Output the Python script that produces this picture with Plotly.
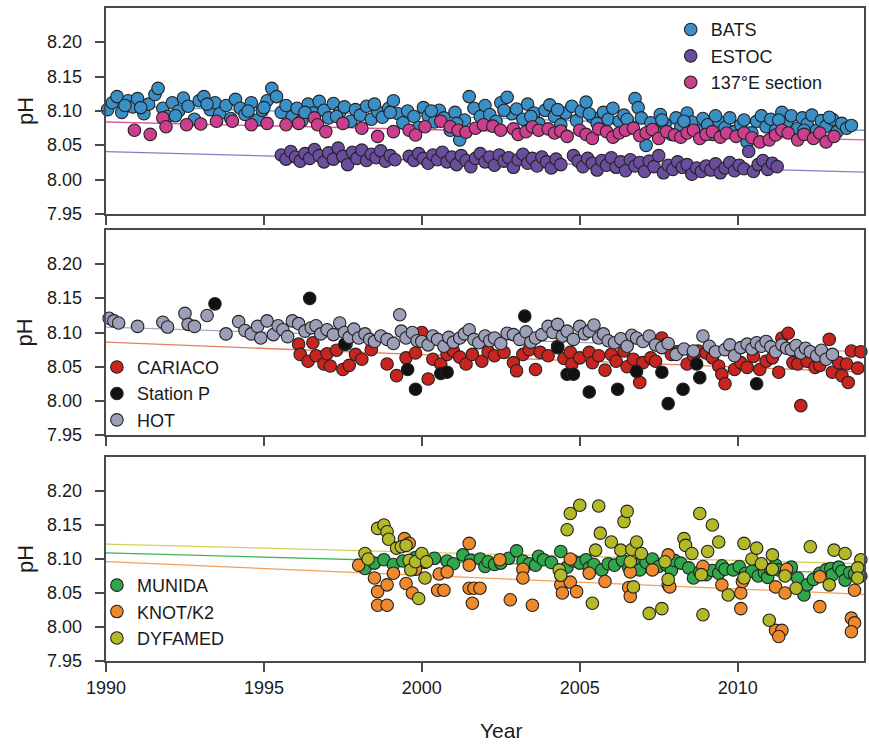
import plotly.graph_objects as go

# ---------------- data ----------------
x_range = [1990, 2014]
ph_ticks = [7.95, 8.00, 8.05, 8.10, 8.15, 8.20]
ph_tick_labels = ["7.95", "8.00", "8.05", "8.10", "8.15", "8.20"]
year_ticks = [1990, 1995, 2000, 2005, 2010]

# Panel 1
bats_year = [1990.05, 1990.2, 1990.35, 1990.5, 1990.7, 1990.85, 1991.0, 1991.2, 1991.35, 1991.55,
             1991.65, 1991.8, 1991.95, 1992.1, 1992.3, 1992.45, 1992.6, 1992.8, 1992.95, 1993.1,
             1993.3, 1993.45, 1993.6, 1993.8, 1993.95, 1994.1, 1994.25, 1994.4, 1994.6, 1994.8,
             1994.95, 1995.1, 1995.25, 1995.4, 1995.55, 1995.7, 1995.9, 1996.05, 1996.2, 1996.4,
             1996.55, 1996.75, 1996.9, 1997.05, 1997.2, 1997.4, 1997.55, 1997.75, 1997.9, 1998.05,
             1998.25, 1998.4, 1998.6, 1998.75, 1998.95, 1999.1, 1999.25, 1999.4, 1999.55, 1999.75,
             1999.9, 2000.05, 2000.2, 2000.4, 2000.55, 2000.7, 2000.9, 2001.05, 2001.2, 2001.35,
             2001.5, 2001.65, 2001.85, 2002.0, 2002.15, 2002.35, 2002.5, 2002.7, 2002.85, 2003.0,
             2003.2, 2003.35, 2003.55, 2003.7, 2003.9, 2004.05, 2004.2, 2004.4, 2004.55, 2004.75,
             2004.9, 2005.05, 2005.2, 2005.4, 2005.55, 2005.75, 2005.9, 2006.05, 2006.25, 2006.4,
             2006.6, 2006.75, 2006.85, 2006.95, 2007.1, 2007.25, 2007.4, 2007.55, 2007.7, 2007.9,
             2008.05, 2008.2, 2008.4, 2008.55, 2008.75, 2008.9, 2009.05, 2009.2, 2009.4, 2009.6,
             2009.75, 2009.9, 2010.1, 2010.3, 2010.45, 2010.6, 2010.75, 2010.9, 2011.05, 2011.2,
             2011.4, 2011.55, 2011.7, 2011.9, 2012.05, 2012.2, 2012.35, 2012.5, 2012.65, 2012.8,
             2013.0, 2013.15, 2013.3, 2013.45, 2013.6,
             1990.6, 1991.1, 1992.2, 1993.2, 1994.5, 1995.0, 1996.3, 1997.3, 1998.5, 1999.0,
             2000.3, 2001.1, 2002.6, 2003.45, 2004.3, 2005.3, 2006.5, 2007.6, 2008.3, 2009.3,
             2010.2, 2011.3, 2012.1, 2012.9]
bats_ph = [8.102, 8.112, 8.121, 8.098, 8.115, 8.106, 8.118, 8.096, 8.110, 8.124,
           8.133, 8.104, 8.092, 8.112, 8.100, 8.119, 8.107, 8.088, 8.115, 8.121,
           8.102, 8.112, 8.096, 8.108, 8.089, 8.117, 8.104, 8.095, 8.112, 8.087,
           8.101, 8.115, 8.133, 8.121, 8.098, 8.108, 8.092, 8.104, 8.086, 8.110,
           8.097, 8.114, 8.101, 8.090, 8.111, 8.098, 8.106, 8.085, 8.102, 8.094,
           8.107, 8.088, 8.099, 8.091, 8.104, 8.115, 8.096, 8.083, 8.100, 8.092,
           8.076, 8.105, 8.093, 8.084, 8.101, 8.090, 8.072, 8.098, 8.058, 8.087,
           8.121, 8.104, 8.092, 8.108, 8.095, 8.085, 8.112, 8.120, 8.096, 8.103,
           8.088, 8.110, 8.097, 8.082, 8.101, 8.109, 8.092, 8.080, 8.097, 8.107,
           8.086, 8.100, 8.113, 8.091, 8.082, 8.098, 8.088, 8.104, 8.085, 8.094,
           8.078, 8.118, 8.105, 8.090, 8.050, 8.083, 8.072, 8.095, 8.081, 8.066,
           8.090, 8.077, 8.097, 8.084, 8.071, 8.089, 8.080, 8.066, 8.085, 8.076,
           8.090, 8.070, 8.080, 8.055, 8.068, 8.085, 8.093, 8.077, 8.088, 8.072,
           8.098, 8.084, 8.093, 8.075, 8.090, 8.081, 8.094, 8.072, 8.086, 8.078,
           8.088, 8.070, 8.082, 8.075, 8.079,
           8.108, 8.105, 8.093, 8.110, 8.100, 8.105, 8.098, 8.092, 8.110, 8.098,
           8.100, 8.082, 8.101, 8.092, 8.102, 8.096, 8.088, 8.087, 8.085, 8.093,
           8.087, 8.087, 8.072, 8.091]

estoc_year = [1995.55, 1995.7, 1995.85, 1996.0, 1996.15, 1996.3, 1996.45, 1996.6, 1996.75, 1996.9,
              1997.05, 1997.2, 1997.35, 1997.5, 1997.65, 1997.8, 1997.95, 1998.1, 1998.25, 1998.4,
              1998.55, 1998.7, 1998.85, 1999.0, 1999.15, 1999.6, 1999.75, 1999.9, 2000.05, 2000.2,
              2000.35, 2000.5, 2000.65, 2000.8, 2000.95, 2001.1, 2001.25, 2001.4, 2001.55, 2001.7,
              2001.85, 2002.0, 2002.15, 2002.3, 2002.45, 2002.6, 2002.75, 2002.9, 2003.05, 2003.2,
              2003.35, 2003.5, 2003.65, 2003.8, 2003.95, 2004.1, 2004.25, 2004.4, 2004.8, 2004.95,
              2005.1, 2005.25, 2005.4, 2005.55, 2005.7, 2005.85, 2006.0, 2006.15, 2006.3, 2006.45,
              2006.6, 2006.75, 2006.9, 2007.05, 2007.2, 2007.35, 2007.5, 2007.65, 2007.8, 2007.95,
              2008.1, 2008.25, 2008.4, 2008.55, 2008.7, 2008.85, 2009.0, 2009.15, 2009.3, 2009.45,
              2009.6, 2009.75, 2009.9, 2010.05, 2010.2, 2010.35, 2010.5, 2010.65, 2010.8, 2010.95,
              2011.1, 2011.25]
estoc_ph = [8.036, 8.030, 8.041, 8.033, 8.027, 8.038, 8.031, 8.044, 8.035, 8.026,
            8.039, 8.030, 8.046, 8.034, 8.022, 8.040, 8.031, 8.043, 8.028, 8.037,
            8.032, 8.042, 8.027, 8.035, 8.029, 8.034, 8.028, 8.038, 8.031, 8.024,
            8.036, 8.029, 8.040, 8.026, 8.033, 8.022, 8.035, 8.028, 8.019, 8.031,
            8.038, 8.026, 8.033, 8.021, 8.036, 8.027, 8.032, 8.018, 8.029, 8.037,
            8.024, 8.031, 8.020, 8.033, 8.026, 8.017, 8.030, 8.022, 8.035, 8.027,
            8.019, 8.031, 8.024, 8.014, 8.028, 8.021, 8.032, 8.018, 8.026, 8.013,
            8.029, 8.020, 8.025, 8.012, 8.027, 8.019, 8.035, 8.010, 8.021, 8.015,
            8.026, 8.018, 8.022, 8.008, 8.017, 8.012, 8.020, 8.014, 8.023, 8.010,
            8.017, 8.025, 8.013, 8.021, 8.016, 8.041, 8.012, 8.022, 8.028, 8.015,
            8.024, 8.019]

e137_year = [1990.9, 1991.4, 1991.8, 1991.9, 1992.55, 1993.0, 1993.5, 1994.0, 1994.6, 1995.1,
             1995.7, 1996.1, 1996.6, 1996.7, 1996.96, 1997.5, 1998.1, 1998.6, 1999.1, 1999.6,
             1999.8, 2000.1, 2000.6, 2000.9, 2001.15, 2001.4, 2001.7, 2001.95, 2002.25, 2002.5,
             2002.9, 2003.05, 2003.3, 2003.5, 2003.7, 2004.0, 2004.2, 2004.4, 2004.6, 2005.0,
             2005.2, 2005.4, 2005.6, 2005.85, 2006.05, 2006.25, 2006.45, 2006.7, 2006.9, 2007.1,
             2007.3, 2007.5, 2007.75, 2008.0, 2008.2, 2008.4, 2008.6, 2008.8, 2009.0, 2009.2,
             2009.45, 2009.65, 2009.95, 2010.2, 2010.45, 2010.7, 2011.0, 2011.2, 2011.4, 2011.6,
             2011.9, 2012.1, 2012.4, 2012.6, 2012.8, 2013.05]
e137_ph = [8.072, 8.066, 8.090, 8.077, 8.080, 8.081, 8.085, 8.085, 8.080, 8.082,
           8.080, 8.082, 8.090, 8.080, 8.070, 8.082, 8.075, 8.063, 8.070, 8.072,
           8.065, 8.077, 8.085, 8.077, 8.072, 8.069, 8.075, 8.080, 8.078, 8.072,
           8.074, 8.066, 8.070, 8.077, 8.072, 8.074, 8.068, 8.071, 8.063, 8.072,
           8.066, 8.060, 8.074, 8.070, 8.062, 8.068, 8.072, 8.075, 8.064, 8.068,
           8.073, 8.060, 8.070, 8.065, 8.062, 8.068, 8.072, 8.060, 8.066, 8.070,
           8.062, 8.068, 8.063, 8.068, 8.061, 8.055, 8.058, 8.065, 8.072, 8.068,
           8.058, 8.066, 8.060, 8.068, 8.055, 8.063]

# Panel 2
cariaco_year = [1996.1, 1996.15, 1996.4, 1996.55, 1996.65, 1996.9, 1997.0, 1997.1, 1997.3, 1997.5,
                1997.6, 1997.7, 1997.9, 1998.1, 1998.4, 1998.9, 1999.2, 1999.5, 1999.8, 2000.0,
                2000.2, 2000.35, 2000.6, 2000.8, 2001.0, 2001.2, 2001.4, 2001.6, 2001.9, 2002.1,
                2002.3, 2002.6, 2002.9, 2003.0, 2003.2, 2003.4, 2003.6, 2003.75, 2004.0, 2004.3,
                2004.5, 2004.7, 2004.75, 2005.0, 2005.3, 2005.4, 2005.6, 2005.8, 2006.0, 2006.15,
                2006.4, 2006.5, 2006.7, 2006.9, 2007.0, 2007.25, 2007.4, 2007.6, 2007.75, 2007.9,
                2008.1, 2008.4, 2008.6, 2008.75, 2009.0, 2009.2, 2009.4, 2009.5, 2009.6, 2009.9,
                2010.1, 2010.3, 2010.5, 2010.7, 2010.9, 2011.1, 2011.3, 2011.4, 2011.6, 2011.75,
                2011.9, 2012.0, 2012.2, 2012.45, 2012.6, 2012.9, 2013.0, 2013.2, 2013.3, 2013.45,
                2013.5, 2013.6, 2013.8, 2013.9]
cariaco_ph = [8.083, 8.068, 8.058, 8.085, 8.066, 8.054, 8.069, 8.051, 8.074, 8.046,
              8.083, 8.052, 8.068, 8.061, 8.075, 8.054, 8.037, 8.063, 8.070, 8.100,
              8.032, 8.061, 8.054, 8.068, 8.073, 8.064, 8.054, 8.068, 8.058, 8.072,
              8.066, 8.071, 8.056, 8.044, 8.068, 8.075, 8.046, 8.071, 8.066, 8.080,
              8.062, 8.071, 8.054, 8.063, 8.071, 8.056, 8.066, 8.045, 8.068, 8.058,
              8.073, 8.050, 8.061, 8.027, 8.056, 8.063, 8.058, 8.092, 8.083, 8.068,
              8.072, 8.054, 8.066, 8.073, 8.070, 8.063, 8.051, 8.039, 8.025, 8.046,
              8.056, 8.049, 8.065, 8.046, 8.058, 8.063, 8.042, 8.092, 8.099, 8.056,
              8.054, 7.993, 8.058, 8.049, 8.052, 8.090, 8.042, 8.056, 8.037, 8.054,
              8.027, 8.073, 8.048, 8.072]

stationp_year = [1993.45, 1996.45, 1997.56, 1999.55, 1999.8, 2000.6, 2000.8, 2003.26, 2004.3, 2004.6,
                 2004.8, 2005.3, 2006.2, 2006.8, 2007.6, 2007.8, 2008.27, 2008.7, 2008.8, 2010.6]
stationp_ph = [8.142, 8.150, 8.083, 8.046, 8.017, 8.040, 8.042, 8.124, 8.078, 8.039,
               8.039, 8.013, 8.017, 8.043, 8.042, 7.996, 8.017, 8.054, 8.034, 8.025]

hot_year = [1990.1, 1990.25, 1990.4, 1991.0, 1991.8, 1991.95, 1992.5, 1992.6, 1992.8, 1993.2,
            1993.8, 1994.2, 1994.4, 1994.6, 1994.8, 1994.9, 1995.1, 1995.3, 1995.45, 1995.6,
            1995.75, 1995.9, 1996.1, 1996.3, 1996.5, 1996.65, 1996.8, 1997.0, 1997.2, 1997.4,
            1997.55, 1997.7, 1997.85, 1998.0, 1998.2, 1998.35, 1998.5, 1998.7, 1998.9, 1999.1,
            1999.3, 1999.35, 1999.5, 1999.7, 1999.85, 2000.0, 2000.2, 2000.35, 2000.5, 2000.7,
            2000.85, 2001.0, 2001.2, 2001.35, 2001.5, 2001.65, 2001.8, 2002.0, 2002.15, 2002.3,
            2002.5, 2002.7, 2002.9, 2003.1, 2003.3, 2003.45, 2003.6, 2003.8, 2004.0, 2004.15,
            2004.3, 2004.45, 2004.6, 2004.8, 2005.0, 2005.15, 2005.3, 2005.45, 2005.6, 2005.75,
            2005.9, 2006.1, 2006.3, 2006.5, 2006.65, 2006.8, 2007.0, 2007.2, 2007.4, 2007.6,
            2007.8, 2008.05, 2008.3, 2008.6, 2008.9, 2009.1, 2009.3, 2009.6, 2009.75, 2009.9,
            2010.1, 2010.3, 2010.45, 2010.6, 2010.75, 2010.9, 2011.05, 2011.2, 2011.4, 2011.55,
            2011.7, 2011.85, 2012.0, 2012.15, 2012.3, 2012.5, 2012.65, 2012.8, 2013.0]
hot_ph = [8.121, 8.117, 8.114, 8.109, 8.115, 8.108, 8.128, 8.112, 8.109, 8.125,
          8.098, 8.116, 8.103, 8.098, 8.109, 8.092, 8.117, 8.097, 8.110, 8.104,
          8.094, 8.117, 8.113, 8.102, 8.107, 8.110, 8.098, 8.104, 8.097, 8.114,
          8.100, 8.093, 8.105, 8.092, 8.098, 8.090, 8.087, 8.095, 8.090, 8.084,
          8.126, 8.102, 8.092, 8.100, 8.088, 8.087, 8.082, 8.095, 8.090, 8.080,
          8.093, 8.086, 8.092, 8.098, 8.104, 8.090, 8.085, 8.095, 8.088, 8.092,
          8.084, 8.099, 8.097, 8.090, 8.101, 8.086, 8.092, 8.097, 8.109, 8.100,
          8.112, 8.095, 8.102, 8.090, 8.109, 8.098, 8.102, 8.111, 8.092, 8.098,
          8.088, 8.085, 8.091, 8.080, 8.096, 8.092, 8.087, 8.095, 8.082, 8.078,
          8.084, 8.068, 8.076, 8.073, 8.095, 8.080, 8.072, 8.075, 8.082, 8.066,
          8.078, 8.083, 8.076, 8.085, 8.080, 8.087, 8.079, 8.072, 8.082, 8.077,
          8.075, 8.081, 8.070, 8.077, 8.072, 8.066, 8.074, 8.061, 8.068]

# Panel 3
munida_year = [1998.2, 1998.5, 1998.8, 1999.1, 1999.4, 1999.8, 2000.1, 2000.4, 2000.8, 2001.0,
               2001.3, 2001.55, 2001.85, 2002.0, 2002.1, 2002.3, 2002.5, 2002.75, 2003.0, 2003.2,
               2003.4, 2003.6, 2003.7, 2003.85, 2004.1, 2004.4, 2004.6, 2004.8, 2005.0, 2005.2,
               2005.3, 2005.45, 2005.7, 2005.9, 2006.1, 2006.35, 2006.55, 2006.7, 2006.9, 2007.1,
               2007.3, 2007.5, 2007.75, 2007.9, 2008.0, 2008.2, 2008.45, 2008.6, 2008.8, 2009.0,
               2009.2, 2009.4, 2009.5, 2009.6, 2009.86, 2010.05, 2010.25, 2010.45, 2010.65, 2010.85,
               2010.95, 2011.05, 2011.2, 2011.3, 2011.5, 2011.7, 2011.9, 2012.1, 2012.2, 2012.4,
               2012.6, 2012.8, 2012.95, 2013.0, 2013.2, 2013.3, 2013.4, 2013.55, 2013.7, 2013.9]
munida_ph = [8.086, 8.094, 8.099, 8.092, 8.097, 8.102, 8.095, 8.101, 8.097, 8.093,
             8.106, 8.098, 8.100, 8.089, 8.096, 8.092, 8.094, 8.101, 8.112, 8.097,
             8.093, 8.091, 8.104, 8.099, 8.095, 8.111, 8.088, 8.097, 8.094, 8.099,
             8.087, 8.092, 8.084, 8.093, 8.091, 8.098, 8.087, 8.093, 8.084, 8.095,
             8.100, 8.089, 8.091, 8.083, 8.098, 8.094, 8.087, 8.072, 8.081, 8.077,
             8.083, 8.079, 8.090, 8.085, 8.084, 8.089, 8.079, 8.082, 8.075, 8.080,
             8.073, 8.085, 8.091, 8.084, 8.077, 8.088, 8.072, 8.047, 8.062, 8.070,
             8.079, 8.084, 8.086, 8.077, 8.088, 8.082, 8.069, 8.080, 8.078, 8.075]

knot_year = [1998.0, 1998.5, 1998.6, 1998.6, 1998.9, 1998.9, 1999.1, 1999.5, 1999.45, 1999.6,
             1999.7, 1999.8, 2000.5, 2000.7, 2000.55, 2000.8, 2001.5, 2001.5, 2001.5, 2001.65,
             2001.6, 2001.84, 2002.47, 2002.8, 2003.2, 2003.2, 2003.5, 2004.4, 2004.45, 2004.7,
             2004.7, 2004.9, 2005.3, 2005.8, 2006.6, 2006.55, 2006.6, 2007.3, 2007.8, 2007.8,
             2007.85, 2008.9, 2009.5, 2010.1, 2010.1, 2010.15, 2011.2, 2011.5, 2011.55, 2011.2,
             2011.4, 2011.3, 2012.6, 2012.6, 2013.7, 2013.6, 2013.7, 2013.6]
knot_ph = [8.091, 8.072, 8.052, 8.032, 8.032, 8.062, 8.079, 8.064, 8.130, 8.123,
           8.050, 8.085, 8.054, 8.054, 8.078, 8.081, 8.123, 8.091, 8.057, 8.057,
           8.035, 8.057, 8.099, 8.040, 8.085, 8.072, 8.032, 8.062, 8.050, 8.100,
           8.066, 8.052, 8.079, 8.067, 8.081, 8.058, 8.045, 8.084, 8.106, 8.062,
           8.059, 8.089, 8.062, 8.050, 8.027, 8.067, 8.059, 8.050, 8.085, 7.995,
           7.995, 7.986, 8.074, 8.030, 8.054, 8.013, 8.006, 7.993]

dyfamed_year = [1998.2, 1998.3, 1998.6, 1998.8, 1998.9, 1998.95, 1999.2, 1999.35, 1999.5, 1999.6,
                1999.65, 1999.8, 2000.0, 2000.1, 2000.15, 1999.9, 2004.35, 2004.4, 2004.6, 2004.7,
                2005.0, 2005.4, 2005.5, 2005.6, 2005.65, 2006.0, 2006.3, 2006.4, 2006.5, 2006.6,
                2006.7, 2006.65, 2006.8, 2006.95, 2007.2, 2007.6, 2007.7, 2007.8, 2008.3, 2008.35,
                2008.55, 2008.8, 2008.9, 2008.85, 2009.05, 2009.2, 2009.4, 2009.7, 2010.2, 2010.2,
                2010.45, 2010.6, 2010.75, 2011.0, 2011.1, 2011.1, 2011.5, 2011.85, 2012.3, 2012.9,
                2013.05, 2013.4, 2013.9, 2013.8, 2013.8]
dyfamed_ph = [8.108, 8.100, 8.145, 8.150, 8.140, 8.129, 8.116, 8.118, 8.120, 8.098,
              8.084, 8.096, 8.108, 8.072, 8.096, 8.042, 8.084, 8.076, 8.143, 8.167,
              8.179, 8.035, 8.113, 8.178, 8.138, 8.125, 8.113, 8.155, 8.170, 8.096,
              8.059, 8.114, 8.125, 8.108, 8.020, 8.027, 8.096, 8.070, 8.130, 8.120,
              8.108, 8.167, 8.018, 8.077, 8.111, 8.150, 8.125, 8.047, 8.123, 8.072,
              8.100, 8.116, 8.093, 8.010, 8.106, 8.085, 8.075, 8.057, 8.118, 8.062,
              8.113, 8.108, 8.099, 8.087, 8.072]

# Trend-line end values at x_range ends
trend_bats = [8.108, 8.072]
trend_estoc = [8.041, 8.011]
trend_e137 = [8.084, 8.058]
trend_cariaco = [8.086, 8.042]
trend_hot = [8.108, 8.072]
trend_munida = [8.109, 8.079]
trend_knot = [8.096, 8.048]
trend_dyfamed = [8.122, 8.093]

# ---------------- figure ----------------
FONT = "Liberation Sans, Arial, sans-serif"
fig = go.Figure()

def add_line(xa, ya, yvals, color):
    fig.add_trace(go.Scatter(x=x_range, y=yvals, mode="lines", xaxis=xa, yaxis=ya,
                             line=dict(color=color, width=1.3), showlegend=False,
                             hoverinfo="skip"))

def add_pts(xa, ya, xs, ys, name, color, legend, edge="#222222"):
    fig.add_trace(go.Scatter(x=xs, y=ys, mode="markers", name=name, xaxis=xa, yaxis=ya,
                             legend=legend, cliponaxis=False,
                             marker=dict(size=12.5, color=color, line=dict(color=edge, width=1.1))))

# panel 1
add_line("x", "y", trend_bats, "#5aa6dc")
add_line("x", "y", trend_estoc, "#8a78c4")
add_line("x", "y", trend_e137, "#dd5aa2")
add_pts("x", "y", bats_year, bats_ph, "BATS", "#3b8fc7", "legend")
add_pts("x", "y", estoc_year, estoc_ph, "ESTOC", "#6a4d9c", "legend")
add_pts("x", "y", e137_year, e137_ph, "137°E section", "#cc3f8f", "legend")

# panel 2
add_line("x2", "y2", trend_hot, "#a6a8b8")
add_line("x2", "y2", trend_cariaco, "#e58060")
add_pts("x2", "y2", cariaco_year, cariaco_ph, "CARIACO", "#c92420", "legend2")
add_pts("x2", "y2", stationp_year, stationp_ph, "Station P", "#111111", "legend2")
add_pts("x2", "y2", hot_year, hot_ph, "HOT", "#9c9fb8", "legend2")

# panel 3
add_line("x3", "y3", trend_dyfamed, "#cfd25a")
add_line("x3", "y3", trend_munida, "#3fb352")
add_line("x3", "y3", trend_knot, "#f2a05a")
add_pts("x3", "y3", munida_year, munida_ph, "MUNIDA", "#2fa84c", "legend3")
add_pts("x3", "y3", knot_year, knot_ph, "KNOT/K2", "#ef8a2c", "legend3")
add_pts("x3", "y3", dyfamed_year, dyfamed_ph, "DYFAMED", "#b4b927", "legend3")

axis_common = dict(showline=True, mirror=True, linecolor="#4a4a4a", linewidth=2,
                   ticks="outside", tickcolor="#4a4a4a", tickwidth=1.5, ticklen=9,
                   showgrid=False, zeroline=False,
                   tickfont=dict(family=FONT, size=18, color="#1a1a1a"))

xcommon = dict(axis_common, range=x_range, tickvals=year_ticks)
# y tick labels are drawn as annotations (below) for precise placement
ycommon = dict(axis_common, range=[7.95, 8.25], tickvals=ph_ticks, showticklabels=False)

domains = {"1": [0.6845, 1.0], "2": [0.346, 0.660], "3": [0.0, 0.3124]}

legend_common = dict(font=dict(family=FONT, size=18, color="#1a1a1a"),
                     bgcolor="rgba(0,0,0,0)", borderwidth=0,
                     xanchor="left", yanchor="top", itemclick=False)

fig.update_layout(
    width=869, height=744,
    margin=dict(l=106, r=3, t=8, b=83),
    paper_bgcolor="white", plot_bgcolor="white",
    xaxis=dict(xcommon, domain=[0, 1], anchor="y", showticklabels=False),
    yaxis=dict(ycommon, domain=domains["1"], anchor="x"),
    xaxis2=dict(xcommon, domain=[0, 1], anchor="y2", matches="x", showticklabels=False),
    yaxis2=dict(ycommon, domain=domains["2"], anchor="x2"),
    xaxis3=dict(xcommon, domain=[0, 1], anchor="y3", matches="x"),
    yaxis3=dict(ycommon, domain=domains["3"], anchor="x3"),
    legend=dict(legend_common, x=0.745, y=0.995),
    legend2=dict(legend_common, x=-0.012, y=0.478),
    legend3=dict(legend_common, x=-0.012, y=0.144),
)

for ref in ["y", "y2", "y3"]:
    for val, lab in zip(ph_ticks, ph_tick_labels):
        fig.add_annotation(text=lab, xref="paper", x=0, xshift=-22, xanchor="right",
                           yref=ref, y=val, yanchor="middle", showarrow=False,
                           font=dict(family=FONT, size=18, color="#1a1a1a"))
    fig.add_annotation(text="pH", xref="paper", x=0, xshift=-81, xanchor="center",
                       yref=ref + " domain", y=0.5, yanchor="middle", textangle=-90,
                       showarrow=False, font=dict(family=FONT, size=22, color="#1a1a1a"))

fig.add_annotation(text="Year", xref="paper", x=0.521, yref="paper", y=0, yshift=-69,
                   xanchor="center", yanchor="middle", showarrow=False,
                   font=dict(family=FONT, size=21, color="#1a1a1a"))

fig.write_html("out.html")
